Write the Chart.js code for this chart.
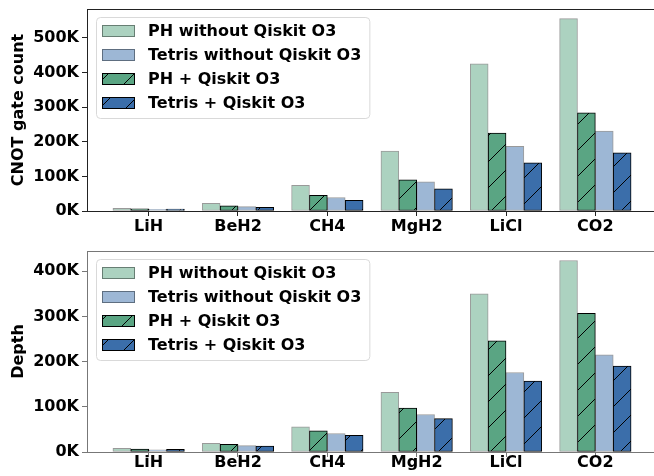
<!DOCTYPE html>
<html>
<head>
<meta charset="utf-8">
<script src="https://cdn.jsdelivr.net/npm/chart.js@4"></script>
<style>
html, body { margin: 0; padding: 0; overflow: hidden; background: #fff; }
#wrap { position: relative; width: 654px; height: 476px; overflow: hidden; }
#top { position: absolute; left: 0; top: 0; }
#bottom { position: absolute; left: 0; top: 240px; }
</style>
</head>
<body>
<div id="wrap">
  <canvas id="top" width="660" height="240"></canvas>
  <canvas id="bottom" width="660" height="236"></canvas>
</div>
<script>
// 분자 목록
const molecules = ['LiH', 'BeH2', 'CH4', 'MgH2', 'LiCl', 'CO2'];

// CNOT gate count
const cnotPhRaw = [8000, 22000, 74000, 173000, 425000, 555000];
const cnotPhO3 = [6000, 15000, 45000, 90000, 225000, 283000];
const cnotTetrisRaw = [5000, 12500, 39000, 84000, 187000, 231000];
const cnotTetrisO3 = [5500, 10500, 31000, 64000, 139000, 168000];

// Depth
const depthPhRaw = [8000, 19000, 56000, 132000, 350000, 424000];
const depthPhO3 = [6500, 17000, 47000, 97000, 246000, 307000];
const depthTetrisRaw = [5000, 14000, 41000, 83000, 176000, 215000];
const depthTetrisO3 = [6000, 13000, 37000, 74000, 157000, 190000];

// 눈금
const cnotTicks = [0, 100000, 200000, 300000, 400000, 500000];
const depthTicks = [0, 100000, 200000, 300000, 400000];

const FONT = 'DejaVu Sans';

// 빗금 패턴
function hatch(color) {
    const s = 26;
    const c = document.createElement('canvas');
    c.width = s; c.height = s;
    const g = c.getContext('2d');
    g.fillStyle = color;
    g.fillRect(0, 0, s, s);
    g.strokeStyle = '#000';
    g.lineWidth = 1;
    g.beginPath();
    g.moveTo(0, s); g.lineTo(s, 0);
    g.moveTo(-2, 2); g.lineTo(2, -2);
    g.moveTo(s - 2, s + 2); g.lineTo(s + 2, s - 2);
    g.stroke();
    return g.createPattern(c, 'repeat');
}

const lightEdge = 'rgba(0,0,0,0.4)';

// 축 프레임
const framePlugin = {
    id: 'frame',
    afterDatasetsDraw(chart) {
        const a = chart.chartArea, ctx = chart.ctx;
        ctx.save();
        ctx.strokeStyle = chart.options.plugins.frame.color;
        ctx.lineWidth = 1;
        ctx.strokeRect(Math.round(a.left) + 0.5, Math.round(a.top) + 0.5,
            Math.round(a.right - a.left), Math.round(a.bottom - a.top));
        ctx.restore();
    }
};

// 안쪽 범례
const innerLegend = {
    id: 'innerLegend',
    afterDraw(chart) {
        const ctx = chart.ctx, a = chart.chartArea;
        const dsets = chart.data.datasets;
        ctx.save();
        ctx.font = 'bold 16px "' + FONT + '"';
        const textW = Math.max(...dsets.map(d => ctx.measureText(d.label).width));
        const x0 = a.left + 9, y0 = a.top + 8;
        const w = 52 + textW + 8, h = 101, r = 4;
        ctx.beginPath();
        ctx.roundRect(x0 + 0.5, y0 + 0.5, w, h, r);
        ctx.fillStyle = 'rgba(255,255,255,0.8)';
        ctx.fill();
        ctx.strokeStyle = '#d9d9d9';
        ctx.lineWidth = 1;
        ctx.stroke();
        dsets.forEach((d, k) => {
            const cy = Math.round(y0 + 13.5 + k * 24);
            ctx.fillStyle = d.backgroundColor;
            ctx.fillRect(x0 + 6, cy - 6, 33, 12);
            ctx.strokeStyle = d.borderColor;
            ctx.strokeRect(x0 + 6.5, cy - 5.5, 32, 11);
            ctx.fillStyle = '#000';
            ctx.textBaseline = 'middle';
            ctx.textAlign = 'left';
            ctx.fillText(d.label, x0 + 52, cy + 1);
        });
        ctx.restore();
    }
};

function makeChart(id, phRaw, tetrisRaw, phO3, tetrisO3, yMax, yTicks, yTitle, frameColor, padTop, xAxisH, xPad) {
    const series = [
        { label: 'PH without Qiskit O3', values: phRaw, offset: -0.3, fill: '#acd2c0', edge: lightEdge },
        { label: 'Tetris without Qiskit O3', values: tetrisRaw, offset: 0.1, fill: '#9db7d5', edge: lightEdge },
        { label: 'PH + Qiskit O3', values: phO3, offset: -0.1, fill: hatch('#5aa583'), edge: '#000' },
        { label: 'Tetris + Qiskit O3', values: tetrisO3, offset: 0.3, fill: hatch('#3b6eaa'), edge: '#000' }
    ];
    const datasets = series.map(s => ({
        label: s.label,
        data: s.values.map((v, i) => ({ x: i + s.offset, y: v })),
        backgroundColor: s.fill,
        borderColor: s.edge,
        borderWidth: 1,
        borderSkipped: false,
        grouped: false,
        categoryPercentage: 1,
        barPercentage: 1
    }));

    return new Chart(document.getElementById(id), {
        type: 'bar',
        data: { datasets },
        plugins: [framePlugin, innerLegend],
        options: {
            responsive: false,
            animation: false,
            devicePixelRatio: 1,
            layout: { padding: { top: padTop, right: 3, left: 0, bottom: 0 } },
            plugins: {
                legend: { display: false },
                tooltip: { enabled: false },
                frame: { color: frameColor }
            },
            scales: {
                x: {
                    type: 'linear',
                    offset: false,
                    min: -0.69,
                    max: 5.69,
                    afterBuildTicks: s => { s.ticks = molecules.map((m, i) => ({ value: i })); },
                    afterFit: s => { s.height = xAxisH; s.paddingLeft = 0; s.paddingRight = 0; },
                    border: { display: false },
                    grid: { offset: false, drawOnChartArea: false, drawTicks: true, tickLength: 5, color: frameColor },
                    ticks: {
                        autoSkip: false,
                        maxRotation: 0,
                        padding: xPad,
                        color: '#000',
                        font: { family: FONT, size: 16, weight: 'bold' },
                        callback: v => molecules[v]
                    }
                },
                y: {
                    min: 0,
                    max: yMax,
                    afterBuildTicks: s => { s.ticks = yTicks.map(v => ({ value: v })); },
                    afterFit: s => { s.width = 87; s.paddingTop = 0; s.paddingBottom = 0; },
                    border: { display: false },
                    grid: { drawOnChartArea: false, drawTicks: true, tickLength: 5, color: frameColor },
                    ticks: {
                        padding: 3,
                        color: '#000',
                        font: { family: FONT, size: 16, weight: 'bold' },
                        callback: v => (v / 1000) + 'K'
                    },
                    title: {
                        display: true,
                        text: yTitle,
                        color: '#000',
                        padding: { top: 9, bottom: 0 },
                        font: { family: FONT, size: 16, weight: 'bold' }
                    }
                }
            }
        }
    });
}

makeChart('top', cnotPhRaw, cnotTetrisRaw, cnotPhO3, cnotTetrisO3,
    583000, cnotTicks, 'CNOT gate count', '#222', 9, 29, 1);
makeChart('bottom', depthPhRaw, depthTetrisRaw, depthPhO3, depthTetrisO3,
    445000, depthTicks, 'Depth', '#777', 11, 24, -4);
</script>
</body>
</html>
